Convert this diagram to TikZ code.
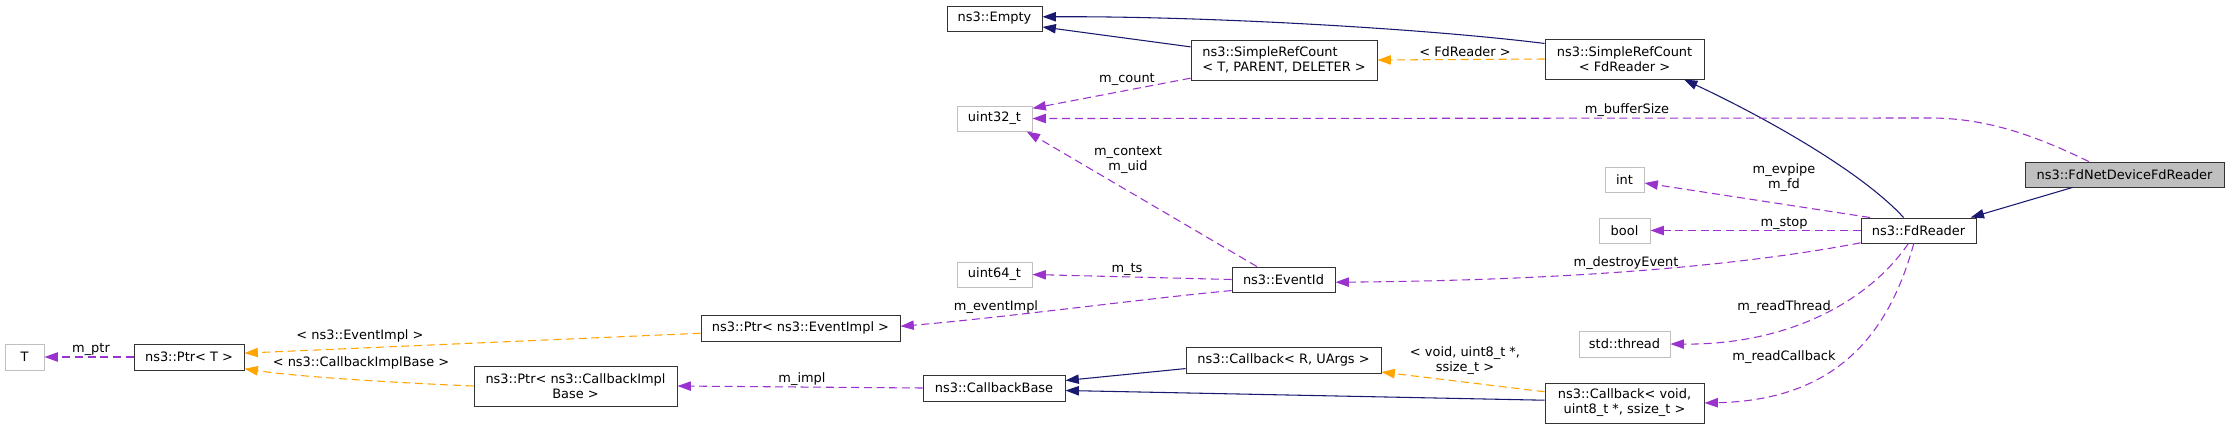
\documentclass[tikz,border=0pt]{standalone}
\usepackage{fontspec}
\setmainfont{DejaVu Sans}
\usetikzlibrary{arrows.meta}

\definecolor{navy}{HTML}{191970}
\definecolor{orchid}{HTML}{9A32CD}
\definecolor{tmpl}{HTML}{FFA500}
\definecolor{grey75}{HTML}{BFBFBF}

\begin{document}
\begin{tikzpicture}[x=0.75pt,y=-0.75pt,
    every node/.style={font=\fontsize{9.7}{11.25}\selectfont, inner sep=0pt, align=center},
    cls/.style={draw=black!80, line width=0.75pt, fill=white},
    ext/.style={draw=grey75, line width=0.75pt, fill=white},
    sz/.style 2 args={minimum width=#1*0.75pt, minimum height=#2*0.75pt},
    inh/.style={navy, line width=0.8pt, -{Triangle[length=10pt,width=7pt]}},
    use/.style={orchid, line width=0.8pt, dash pattern=on 6pt off 3.5pt, -{Triangle[length=10pt,width=7pt]}},
    tpl/.style={tmpl, line width=0.8pt, dash pattern=on 6pt off 3.5pt, -{Triangle[length=10pt,width=7pt]}}]
    \useasboundingbox (0,0) rectangle (2229,429);

    \node[cls, sz={95}{25}] (E) at (994.5,18.5) {ns3::Empty};
    \node[cls, sz={186}{40}, align=left] (S1) at (1284,60) {ns3::SimpleRefCount\\< T, PARENT, DELETER >};
    \node[cls, sz={159}{40}] (S2) at (1624.5,59) {ns3::SimpleRefCount\\< FdReader >};
    \node[ext, sz={75}{25}] (U32) at (994.5,118.5) {uint32\_t};
    \node[cls, sz={199}{25}, fill=grey75] (FN) at (2124.5,174.5) {ns3::FdNetDeviceFdReader};
    \node[ext, sz={39}{25}] (I) at (1624.5,179.5) {int};
    \node[ext, sz={51}{25}] (B) at (1624.5,230.5) {bool};
    \node[cls, sz={115}{25}] (FR) at (1918.5,230.5) {ns3::FdReader};
    \node[ext, sz={75}{25}] (U64) at (994.5,274.5) {uint64\_t};
    \node[cls, sz={103}{25}] (EI) at (1283.5,279.5) {ns3::EventId};
    \node[cls, sz={199}{26}] (PE) at (800.5,328) {ns3::Ptr< ns3::EventImpl >};
    \node[cls, sz={195}{26}] (CR) at (1283.5,360) {ns3::Callback< R, UArgs >};
    \node[ext, sz={39}{26}] (T) at (24.5,357) {T};
    \node[cls, sz={110}{26}] (PT) at (189,357) {ns3::Ptr< T >};
    \node[ext, sz={91}{26}] (TH) at (1624.5,344) {std::thread};
    \node[cls, sz={203}{40}] (PC) at (575.5,386) {ns3::Ptr< ns3::CallbackImpl\\Base >};
    \node[cls, sz={142}{26}] (CB) at (994,388) {ns3::CallbackBase};
    \node[cls, sz={159}{40}] (CV) at (1624.5,403) {ns3::Callback< void,\\uint8\_t *, ssize\_t >};

    % base classes
    \draw[inh] (S1.172) -- (E.-10);
    \draw[inh] (S2.169) .. controls (1420,28) and (1200,16) .. (E.2);
    \draw[inh] (FR.139) .. controls (1860,170) and (1760,115) .. (S2.-19.5);
    \draw[inh] (FN.194.5) -- (FR.14.7);
    \draw[inh] (CR.185) -- (CB.6.4);
    \draw[inh] (CV.178) -- (CB.-2);

    % template instances
    \draw[tpl] (S2.west) -- (S1.east);
    \draw[tpl] (CV.172) -- (CR.-7);
    \draw[tpl] (PE.183) -- (PT.4);
    \draw[tpl] (PC.west) .. controls (400,383) and (300,377) .. (PT.-12);

    % members
    \draw[use] (FN.160.6) .. controls (2040,138) and (1990,118) .. (1930,118) -- (U32.east);
    \draw[use] (S1.191.5) -- (U32.15.6);
    \draw[use] (EI.154) -- (U32.-22.3);
    \draw[use] (EI.west) -- (U64.east);
    \draw[use] (EI.192.6) .. controls (1150,298) and (1000,318) .. (PE.1.7);
    \draw[use] (FR.165.8) -- (I.-10);
    \draw[use] (FR.west) -- (B.east);
    \draw[use] (FR.192) .. controls (1760,262) and (1600,280) .. (EI.-3);
    \draw[use] (FR.232.8) .. controls (1870,300) and (1790,345) .. (TH.east);
    \draw[use] (FR.250.2) .. controls (1890,330) and (1840,400) .. (CV.east);
    \draw[use] (CB.west) -- (PC.east);
    \draw[use] (PT.west) -- (T.east);

    \node (L1) at (1465,52) {< FdReader >};
    \node (L2) at (1127,79) {m\_count};
    \node (L3) at (1627,110) {m\_bufferSize};
    \node (L4) at (1128,160) {m\_context\\m\_uid};
    \node (L5) at (1784,177.5) {m\_evpipe\\m\_fd};
    \node (L6) at (1784,223) {m\_stop};
    \node (L7) at (1626,263) {m\_destroyEvent};
    \node (L8) at (1127,269) {m\_ts};
    \node (L9) at (996,307) {m\_eventImpl};
    \node (L10) at (1784,307) {m\_readThread};
    \node (L11) at (1784,357) {m\_readCallback};
    \node (L12) at (1465,361) {< void, uint8\_t *,\\ssize\_t >};
    \node (L13) at (802,379) {m\_impl};
    \node (L14) at (360,336) {< ns3::EventImpl >};
    \node (L15) at (361,363) {< ns3::CallbackImplBase >};
    \node (L16) at (91,349) {m\_ptr};
\end{tikzpicture}
\end{document}
